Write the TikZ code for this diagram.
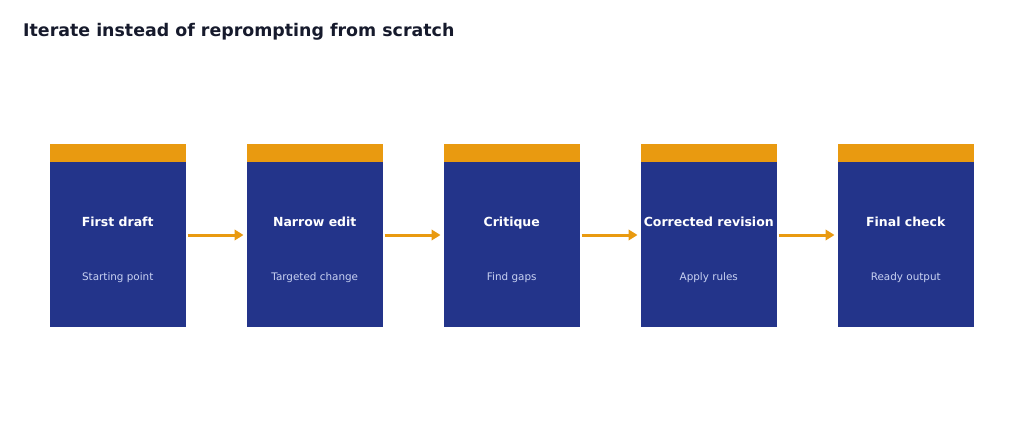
\documentclass[tikz,border=0pt]{standalone}
\usepackage{fontspec}
\setmainfont{DejaVu Sans}
\usetikzlibrary{arrows.meta, positioning}
\definecolor{stepblue}{HTML}{23348A}
\definecolor{caporange}{HTML}{E99A10}
\definecolor{subtext}{HTML}{C9D2F2}
\definecolor{titleink}{HTML}{161A2C}

\begin{document}
\begin{tikzpicture}[
    x=1pt, y=-1pt,
    node distance=0pt and 61.5pt,
    stepbox/.style={rectangle, fill=stepblue, minimum width=135.5pt, minimum height=165pt, inner sep=0pt, outer sep=0pt},
    capbar/.style={rectangle, fill=caporange, minimum width=135.5pt, minimum height=18pt, inner sep=0pt, outer sep=0pt},
    steptitle/.style={anchor=base, text=white, font=\bfseries\fontsize{12.5}{14}\selectfont},
    stepnote/.style={anchor=base, text=subtext, font=\fontsize{10.4}{12}\selectfont},
    myarrow/.style={draw=caporange, line width=3pt, -{Triangle[length=9pt, width=10.5pt]}}
]
\useasboundingbox (0,0) rectangle (1024,441);

% Title
\node[anchor=base west, text=titleink, font=\bfseries\fontsize{17.4}{20}\selectfont, inner sep=0pt] (title) at (23,36.5) {Iterate instead of reprompting from scratch};

% Boxes
\node[stepbox] (Draft) at (117.75,244.5) {};
\node[stepbox, right=of Draft] (Narrow) {};
\node[stepbox, right=of Narrow] (Critique) {};
\node[stepbox, right=of Critique] (Revision) {};
\node[stepbox, right=of Revision] (Final) {};

% Orange caps
\node[capbar, above=of Draft] (DraftCap) {};
\node[capbar, above=of Narrow] (NarrowCap) {};
\node[capbar, above=of Critique] (CritiqueCap) {};
\node[capbar, above=of Revision] (RevisionCap) {};
\node[capbar, above=of Final] (FinalCap) {};

% Labels
\node[steptitle] (DraftTitle) at ([yshift=18.5pt]Draft.center) {First draft};
\node[stepnote] (DraftNote) at ([yshift=-35.5pt]Draft.center) {Starting point};
\node[steptitle] (NarrowTitle) at ([yshift=18.5pt]Narrow.center) {Narrow edit};
\node[stepnote] (NarrowNote) at ([yshift=-35.5pt]Narrow.center) {Targeted change};
\node[steptitle] (CritiqueTitle) at ([yshift=18.5pt]Critique.center) {Critique};
\node[stepnote] (CritiqueNote) at ([yshift=-35.5pt]Critique.center) {Find gaps};
\node[steptitle] (RevisionTitle) at ([yshift=18.5pt]Revision.center) {Corrected revision};
\node[stepnote] (RevisionNote) at ([yshift=-35.5pt]Revision.center) {Apply rules};
\node[steptitle] (FinalTitle) at ([yshift=18.5pt]Final.center) {Final check};
\node[stepnote] (FinalNote) at ([yshift=-35.5pt]Final.center) {Ready output};

% Arrows
\draw[myarrow] ([shift={(2pt,9.5pt)}]Draft.east) -- ([shift={(-3.5pt,9.5pt)}]Narrow.west);
\draw[myarrow] ([shift={(2pt,9.5pt)}]Narrow.east) -- ([shift={(-3.5pt,9.5pt)}]Critique.west);
\draw[myarrow] ([shift={(2pt,9.5pt)}]Critique.east) -- ([shift={(-3.5pt,9.5pt)}]Revision.west);
\draw[myarrow] ([shift={(2pt,9.5pt)}]Revision.east) -- ([shift={(-3.5pt,9.5pt)}]Final.west);

\end{tikzpicture}
\end{document}
